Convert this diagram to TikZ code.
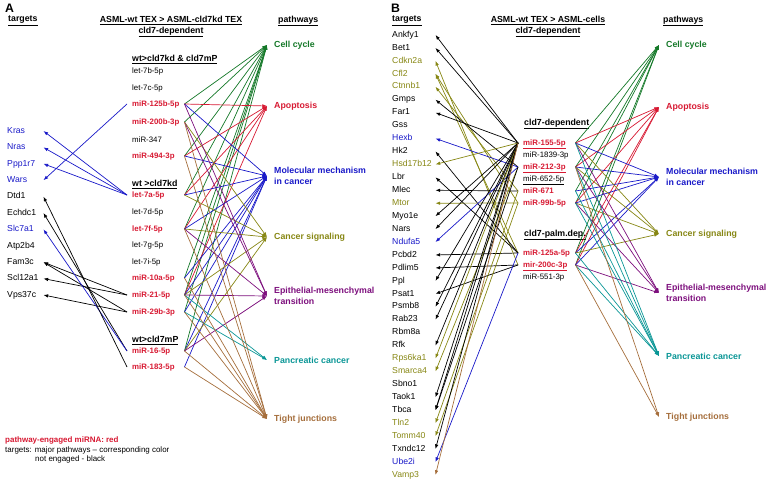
\documentclass[tikz,border=0pt]{standalone}
\usepackage{fontspec}
\setmainfont{Liberation Sans}
\usetikzlibrary{arrows.meta}
\definecolor{cus-green}{RGB}{20,120,40}
\definecolor{cus-red}{RGB}{215,25,50}
\definecolor{cus-blue}{RGB}{25,25,200}
\definecolor{cus-olive}{RGB}{135,135,20}
\definecolor{cus-purple}{RGB}{125,15,125}
\definecolor{cus-teal}{RGB}{10,150,150}
\definecolor{cus-brown}{RGB}{165,110,60}

\begin{document}
\begin{tikzpicture}[x=0.03cm, y=-0.03cm,
	every node/.style={inner sep=0pt},
	head/.style={anchor=west, font=\bfseries\fontsize{7.5}{9.4}\selectfont},
	tgt/.style={anchor=west, align=left, text width=#1, text height=5.4pt, text depth=1.6pt, font=\fontsize{7.4}{9}\selectfont},
	mir/.style={anchor=west, inner xsep=0.15cm, align=left, text width=1.41cm, text height=5pt, text depth=1.4pt, font=\fontsize{6.7}{8}\selectfont},
	mirred/.style={mir, text=cus-red, font=\bfseries\fontsize{6.7}{8}\selectfont},
	pway/.style={anchor=west, inner xsep=0.21cm, align=left, text=#1, font=\bfseries\fontsize{7.5}{9}\selectfont},
	link/.style={line width=0.6pt, draw=#1, -{Latex[length=4pt,width=3pt]}}]
\useasboundingbox (0,0) rectangle (769,483);

% headings
\node [anchor=west, font=\bfseries\fontsize{10.5}{10.5}\selectfont] (labA) at (5,8) {A};
\node [anchor=west, font=\bfseries\fontsize{10.5}{10.5}\selectfont] (labB) at (391,8) {B};
\node [head] (targA) at (8,21) {\underline{targets}};
\node [head] (targB) at (392,21) {\underline{targets}};
\node [head, anchor=center, align=center] (titA) at (171,26.5) {\underline{ASML-wt TEX > ASML-cld7kd TEX}\\\underline{cld7-dependent}};
\node [head, anchor=center, align=center] (titB) at (548,26.5) {\underline{ASML-wt TEX > ASML-cells}\\\underline{cld7-dependent}};
\node [head] (pwA) at (278,21) {\underline{pathways}};
\node [head] (pwB) at (663,21) {\underline{pathways}};
\node [head] (grA1) at (132,60) {\underline{wt>cld7kd \& cld7mP}};
\node [head] (grA2) at (132,185) {\underline{wt >cld7kd}};
\node [head] (grA3) at (132,341) {\underline{wt>cld7mP}};
\node [head] (grB1) at (524,124) {\underline{cld7-dependent}};
\node [head] (grB2) at (524,235) {\underline{cld7-palm.dep.}};

% targets
\foreach \n/\c [count=\i] in {Kras/cus-blue, Nras/cus-blue, Ppp1r7/cus-blue, Wars/cus-blue, Dtd1/black, Echdc1/black, Slc7a1/cus-blue, Atp2b4/black, Fam3c/black, Scl12a1/black, Vps37c/black}
	\node [tgt=1.08cm, text=\c] (tA\i) at (7,{131+16.4*(\i-1)}) {\n};
\foreach \n/\c [count=\i] in {Ankfy1/black, Bet1/black, Cdkn2a/cus-olive, Cfl2/cus-olive, Ctnnb1/cus-olive, Gmps/black, Far1/black, Gss/black, Hexb/cus-blue, Hk2/black, Hsd17b12/cus-olive, Lbr/black, Mlec/black, Mtor/cus-olive, Myo1e/black, Nars/black, Ndufa5/cus-blue, Pcbd2/black, Pdlim5/black, Ppl/black, Psat1/black, Psmb8/black, Rab23/black, Rbm8a/black, Rfk/black, Rps6ka1/cus-olive, Smarca4/cus-olive, Sbno1/black, Taok1/black, Tbca/black, Tln2/cus-olive, Tomm40/cus-olive, Txndc12/black, Ube2i/cus-blue, Vamp3/cus-olive}
	\node [tgt=1.29cm, text=\c] (tB\i) at (392,{35+12.94*(\i-1)}) {\n};

% miRNAs
\foreach \n/\y/\s [count=\i] in {let-7b-5p/71/mir, let-7c-5p/88/mir, miR-125b-5p/104/mirred, miR-200b-3p/122/mirred, miR-347/140/mir, miR-494-3p/156/mirred, let-7a-5p/195/mirred, let-7d-5p/212/mir, let-7f-5p/229/mirred, let-7g-5p/245/mir, let-7i-5p/262/mir, miR-10a-5p/278/mirred, miR-21-5p/295/mirred, miR-29b-3p/312/mirred, miR-16-5p/351/mirred, miR-183-5p/367/mirred}
	\node [\s] (mA\i) at (127,\y) {\mbox{\n}};
\foreach \n/\y/\s [count=\i] in {{\underline{miR-155-5p}}/143/mirred, miR-1839-3p/155/mir, {\underline{miR-212-3p}}/167/mirred, {\underline{miR-652-5p}}/179/mir, miR-671/191/mirred, miR-99b-5p/203/mirred, miR-125a-5p/253/mirred, {\underline{mir-200c-3p}}/265/mirred, miR-551-3p/277/mir}
	\node [\s] (mB\i) at (518,\y) {\mbox{\n}};

% pathways
\foreach \n/\ya/\yb/\c [count=\i] in {Cell cycle/45/45/cus-green, Apoptosis/106/107/cus-red, {Molecular mechanism\\in cancer}/176/177/cus-blue, Cancer signaling/237/234/cus-olive, {Epithelial-mesenchymal\\transition}/296/293/cus-purple, Pancreatic cancer/360/356/cus-teal, Tight junctions/419/417/cus-brown}{
	\node [pway=\c] (pA\i) at (267,\ya) {\n};
	\node [pway=\c] (pB\i) at (659,\yb) {\n};
}

% legend
\node [anchor=west, text=cus-red, font=\bfseries\fontsize{6.8}{8}\selectfont] (legA) at (5,440) {pathway-engaged miRNA: red};
\node [anchor=west, font=\fontsize{6.8}{8}\selectfont] (legB) at (5,450) {targets: major pathways \textendash{} corresponding color};
\node [anchor=west, font=\fontsize{6.8}{8}\selectfont] (legC) at (35,459) {not engaged - black};

% miRNA -> targets
\foreach \m/\t/\c in {3/4/cus-blue, 7/1/cus-blue, 7/2/cus-blue, 7/3/cus-blue, 13/9/black, 13/10/black, 14/9/black, 14/11/black, 15/6/black, 15/7/cus-blue, 16/5/black}
	\draw [link=\c] (mA\m.west) -- (tA\t.east);
\foreach \m/\t/\c in {1/1/black, 1/2/black, 8/3/cus-olive, 6/4/cus-olive, 7/4/cus-olive, 5/5/cus-olive, 3/6/black, 1/7/black, 3/9/cus-blue, 7/10/black, 1/11/cus-olive, 7/12/black, 5/13/black, 6/14/cus-olive, 1/15/black, 1/16/black, 3/17/cus-blue, 7/18/black, 8/19/black, 1/20/black, 8/21/black, 1/22/black, 1/23/black, 1/25/black, 1/26/cus-olive, 3/27/cus-olive, 1/29/black, 1/30/black, 3/30/black, 5/31/cus-olive, 6/32/cus-olive, 1/33/black, 7/34/cus-blue, 1/35/cus-brown}
	\draw [link=\c] (mB\m.west) -- (tB\t.east);

% miRNA -> pathways
\foreach \p/\c/\ms in {1/cus-green/{3,4,6,7,9,12,13,14,15}, 2/cus-red/{3,6,7,9,13}, 3/cus-blue/{3,6,7,9,12,13,14,15,16}, 4/cus-olive/{4,7,9,13,15}, 5/cus-purple/{3,4,9,13,15}, 6/cus-teal/{13,14}, 7/cus-brown/{4,6,9,12,13,14,15,16}}{
	\foreach \m in \ms {\draw [link=\c] (mA\m.east) -- (pA\p.west);}
}
\foreach \p/\c/\ms in {1/cus-green/{1,3,5,6,7,8}, 2/cus-red/{1,3,6,7,8}, 3/cus-blue/{1,3,5,6,7,8}, 4/cus-olive/{1,3,6,7}, 5/cus-purple/{1,3,6,8}, 6/cus-teal/{1,3,5,6,7,8}, 7/cus-brown/{3,8}}{
	\foreach \m in \ms {\draw [link=\c] (mB\m.east) -- (pB\p.west);}
}
\end{tikzpicture}
\end{document}
